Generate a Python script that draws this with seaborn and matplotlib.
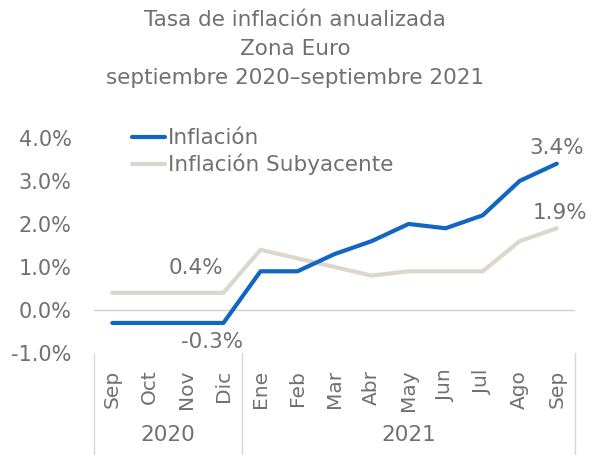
import numpy as np
import pandas as pd
import matplotlib
matplotlib.use("Agg")
import matplotlib.pyplot as plt
import seaborn as sns

# data
months = ["Sep", "Oct", "Nov", "Dic", "Ene", "Feb", "Mar", "Abr", "May", "Jun", "Jul", "Ago", "Sep"]
years = ["2020", "2021"]
year_sizes = [4, 9]
inflacion = [-0.3, -0.3, -0.3, -0.3, 0.9, 0.9, 1.3, 1.6, 2.0, 1.9, 2.2, 3.0, 3.4]
subyacente = [0.4, 0.4, 0.4, 0.4, 1.4, 1.2, 1.0, 0.8, 0.9, 0.9, 0.9, 1.6, 1.9]
series_names = ["Inflación", "Inflación Subyacente"]
y_ticks = [-1.0, 0.0, 1.0, 2.0, 3.0, 4.0]

blue = "#1166C2"
beige = "#DCD6CC"
grey = "#707070"

sns.set_style("white")
plt.rcParams["font.family"] = ["DejaVu Sans"]

df = pd.DataFrame({
    "pos": list(range(len(months))) * 2,
    "valor": inflacion + subyacente,
    "serie": [series_names[0]] * len(months) + [series_names[1]] * len(months),
})

fig = plt.figure(figsize=(5.9, 4.55), dpi=100)
ax = fig.add_axes([0.159, 0.224, 0.816, 0.473])

sns.lineplot(data=df, x="pos", y="valor", hue="serie", hue_order=series_names,
             palette=[blue, beige], linewidth=3, ax=ax, legend=False,
             solid_joinstyle="round", solid_capstyle="round")
# blue series on top
ax.lines[0].set_zorder(4)
ax.lines[1].set_zorder(3)

ax.axhline(0, color="#D0D0D0", linewidth=1, zorder=1)

ax.set_xlim(-0.5, len(months) - 0.5)
ax.set_ylim(-1.0, 4.0)
ax.set_yticks(y_ticks)
ax.set_yticklabels([f"{v:.1f}%" for v in y_ticks], fontsize=15, color=grey)
ax.set_xticks(range(len(months)))
ax.set_xticklabels(months, rotation=90, fontsize=14.5, color=grey)
ax.tick_params(axis="x", length=0, pad=12)
ax.tick_params(axis="y", length=0, pad=16)
ax.set_xlabel("")
ax.set_ylabel("")
sns.despine(ax=ax, left=True, bottom=True)

# year grouping below the month labels
trans = ax.get_xaxis_transform()
edges = np.cumsum([0] + year_sizes) - 0.5
for e in edges:
    ax.plot([e, e], [0, -0.48], transform=trans, color="#D8D8D8", linewidth=1, clip_on=False)
for yr, a, b in zip(years, edges[:-1], edges[1:]):
    ax.text((a + b) / 2, -0.38, yr, transform=trans, ha="center", va="center",
            fontsize=15.5, color=grey)

# value annotations
ann_size = 15.5
ax.text(2.25, 0.98, f"{subyacente[2]:.1f}%", ha="center", va="center", fontsize=ann_size, color=grey)
ax.text(2.7, -0.74, f"{inflacion[3]:.1f}%", ha="center", va="center", fontsize=ann_size, color=grey)
ax.text(12.0, 3.77, f"{inflacion[-1]:.1f}%", ha="center", va="center", fontsize=ann_size, color=grey)
ax.text(12.1, 2.26, f"{subyacente[-1]:.1f}%", ha="center", va="center", fontsize=ann_size, color=grey)

# legend
handles = [plt.Line2D([], [], color=c, linewidth=3, solid_capstyle="round") for c in [blue, beige]]
leg = ax.legend(handles, series_names, loc="upper left", bbox_to_anchor=(0.062, 1.085),
                frameon=False, fontsize=15.5, handlelength=1.5, handletextpad=0.15,
                labelspacing=0.25, borderaxespad=0)
for t in leg.get_texts():
    t.set_color(grey)

fig.text(0.5, 0.978, "Tasa de inflación anualizada\nZona Euro\nseptiembre 2020\u2013septiembre 2021",
         ha="center", va="top", fontsize=15.5, color=grey, linespacing=1.55)

fig.savefig("out.png", dpi=100)
